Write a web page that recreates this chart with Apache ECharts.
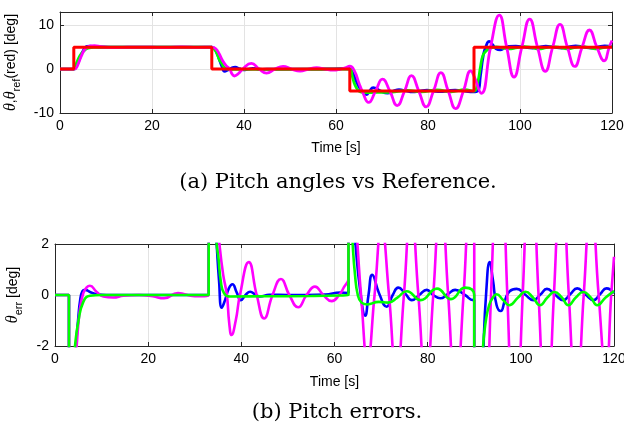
<!DOCTYPE html>
<html>
<head>
<meta charset="utf-8">
<script src="https://cdn.jsdelivr.net/npm/echarts@6.0.0/dist/echarts.min.js"></script>
<style>
  html, body { margin: 0; padding: 0; background: #fff; }
  #chart { width: 624px; height: 432px; }
</style>
</head>
<body>
<div id="chart"></div>
<script>
// reference (red) and pitch responses, [time s, deg]
const refTheta = [[0,0],[3,0],[3,5],[33,5],[33,0],[63,0],[63,-5],[90,-5],[90,5],[120,5]];

const blueTheta = [
  [0,0],[3,0],[3.5,0.5],[4,1.6],[4.5,3.0],[5,4.1],[5.4,4.8],[5.9,5.15],[6.5,5.2],[7.5,5.12],[9,5.03],[11,5],[20,5],[33,5],
  [33.6,4.6],[34.2,3.4],[34.7,2],[35.2,0.6],[35.8,-0.5],[36.5,-0.2],[37.3,0.25],[38.1,0.42],[39,0.1],[39.9,-0.2],[40.9,0],[41.9,0.13],[43,0.02],[44,-0.06],[46,0.01],[50,0],[58,0.02],[61.2,0.1],[63,0.08],
  [63.6,-0.8],[64.1,-2],[64.5,-3],[65.5,-4.8],[66.6,-5.81],[67.3,-5],[68.1,-4.21],[69.6,-4.95],[71.2,-5.46],[72.5,-5],[73.7,-4.71],[75.2,-4.95],[76.6,-5.2],[78.2,-5],[79.8,-4.8],[81.2,-5],[82.7,-5.13],[84.3,-4.97],[85.9,-4.8],[88,-5],[89.8,-5.2],[90.8,-5],
  [91.4,-1.5],[92,3],[92.6,5.2],[93.3,6.29],[94,5.6],[94.8,4.6],[95.7,4.37],[96.6,4.8],[97.6,5.15],[99.1,5.24],[100.9,5.02],[102.7,4.8],[104.2,5.02],[105.6,5.24],[107.3,5.02],[109.1,4.8],[110.6,5.03],[112.1,5.26],[113.8,5.03],[115.6,4.8],[117,5.03],[118.4,5.26],[120,5.07]
];

const greenTheta = [
  [0,0],[3,0],[3.6,1.4],[4.3,3],[5,3.95],[6.1,4.74],[7.5,4.97],[10,5],[20,5],[33,5],
  [33.5,4.6],[34.1,3.6],[34.7,2],[35.1,1.44],[35.6,0.53],[36.3,0.07],[37.6,-0.06],[45,-0.05],[55,-0.04],[61,-0.02],[63,0],
  [63.5,-1.5],[63.9,-3],[64.4,-4.2],[65,-5],[65.8,-5.3],[67,-5.37],[69.5,-5.27],[71.5,-5.3],[73.5,-5.1],[75.5,-4.85],[78.5,-5.2],[82,-4.75],[85,-5.16],[88,-4.71],[90,-5],
  [90.8,-3],[91.4,0.5],[91.9,3],[92.5,4],[93.2,4.6],[94,4.9],[94.8,5.03],[96.2,4.8],[97.5,4.6],[99.4,4.9],[101,5.13],[102.6,4.9],[104.1,4.6],[105.7,4.9],[107.2,5.12],[108.8,4.9],[110.2,4.6],[111.8,4.9],[113.4,5.12],[115,4.9],[116.4,4.6],[118.2,4.9],[120,5.15]
];

const magentaTheta = [
  [0,0],[3,0],[3.4,0.1],[4,1.3],[4.65,3],[5.37,4.48],[6.08,5.07],[6.8,5.3],[7.5,5.36],[8.9,5.13],[10.4,4.94],[12.5,4.9],[14.7,4.97],[18,5],[21,4.95],[23.4,4.87],[26.4,5.08],[30,4.95],[33,5],
  [33.8,4.7],[34.6,3.5],[35.3,2],[36.1,0.8],[36.9,0],[37.4,-1.1],[37.9,-1.57],[38.8,-1],[39.7,0],[41.6,1.29],[43.3,0],[44.9,-0.92],[46.7,0],[48.5,0.63],[50.3,0],[52.2,-0.48],[54,0],[55.8,0.33],[57.6,0],[59.4,-0.24],[61,0],[62,0.3],[63,0.66],
  [64,-0.4],[65,-3.2],[65.7,-5],[67.1,-7.6],[68.6,-5],[70.1,-2.3],[71.7,-5],[73.3,-8.3],[74.9,-5],[76.4,-1.5],[78,-5],[79.6,-8.6],[81.2,-5],[82.8,-0.8],[84.4,-5],[86,-9],[87.7,-5],[89.3,-0.4],[90,-1.6],
  [91.6,-5.5],[93.6,5],[95.5,12.3],[97.1,5],[98.7,-1.8],[100.4,5],[102.1,11.4],[103.8,5],[105.5,-0.5],[107.1,5],[108.7,10.2],[110.3,5],[111.9,0.6],[113.5,5],[115.1,8.9],[116.7,5],[118.3,1.9],[119.4,5],[120,6.5]
];

// pitch errors, [time s, deg]
const blueErr = [
  [0,0],[3,0],[3,-5],[3.5,-4.5],[4,-3.4],[4.5,-2],[5,-0.9],[5.4,-0.2],[5.9,0.15],[6.5,0.2],[7.5,0.12],[9,0.03],[11,0],[20,0],[33,0],
  [33,5],[33.6,4.6],[34.2,3.4],[34.7,2],[35.2,0.6],[35.8,-0.5],[36.5,-0.2],[37.3,0.25],[38.1,0.42],[39,0.1],[39.9,-0.2],[40.9,0],[41.9,0.13],[43,0.02],[44,-0.06],[46,0.01],[50,0],[58,0.02],[61.2,0.1],[63,0.08],
  [63,5.08],[63.6,4.2],[64.1,3],[64.5,2],[65.5,0.2],[66.6,-0.81],[67.3,0],[68.1,0.79],[69.6,0.05],[71.2,-0.46],[72.5,0],[73.7,0.29],[75.2,0.05],[76.6,-0.2],[78.2,0],[79.8,0.2],[81.2,0],[82.7,-0.13],[84.3,0.03],[85.9,0.2],[88,0],[89.8,-0.2],[90,-0.2],
  [90,-10.2],[90.8,-10],[91.4,-6.5],[92,-2],[92.6,0.2],[93.3,1.29],[94,0.6],[94.8,-0.4],[95.7,-0.63],[96.6,-0.2],[97.6,0.15],[99.1,0.24],[100.9,0.02],[102.7,-0.2],[104.2,0.02],[105.6,0.24],[107.3,0.02],[109.1,-0.2],[110.6,0.03],[112.1,0.26],[113.8,0.03],[115.6,-0.2],[117,0.03],[118.4,0.26],[120,0.07]
];

const greenErr = [
  [0,0],[3,0],[3,-5],[3.6,-3.6],[4.3,-2],[5,-1.05],[6.1,-0.26],[7.5,-0.03],[10,0],[20,0],[33,0],
  [33,5],[33.5,4.6],[34.1,3.6],[34.7,2],[35.1,1.44],[35.6,0.53],[36.3,0.07],[37.6,-0.06],[45,-0.05],[55,-0.04],[61,-0.02],[63,0],
  [63,5],[63.5,3.5],[63.9,2],[64.4,0.8],[65,0],[65.8,-0.3],[67,-0.37],[69.5,-0.27],[71.5,-0.3],[73.5,-0.1],[75.5,0.15],[78.5,-0.2],[82,0.25],[85,-0.16],[88,0.29],[90,0],
  [90,-10],[90.8,-8],[91.4,-4.5],[91.9,-2],[92.5,-1],[93.2,-0.4],[94,-0.1],[94.8,0.03],[96.2,-0.2],[97.5,-0.4],[99.4,-0.1],[101,0.13],[102.6,-0.1],[104.1,-0.4],[105.7,-0.1],[107.2,0.12],[108.8,-0.1],[110.2,-0.4],[111.8,-0.1],[113.4,0.12],[115,-0.1],[116.4,-0.4],[118.2,-0.1],[120,0.15]
];

const magentaErr = [
  [0,0],[3,0],[3,-5],[3.4,-4.9],[4,-3.7],[4.65,-2],[5.37,-0.52],[6.08,0.07],[6.8,0.3],[7.5,0.36],[8.9,0.13],[10.4,-0.06],[12.5,-0.1],[14.7,-0.03],[18,0],[21,-0.05],[23.4,-0.13],[26.4,0.08],[30,-0.05],[33,0],
  [33,5],[33.8,4.7],[34.6,3.5],[35.3,2],[36.1,0.8],[36.9,0],[37.4,-1.1],[37.9,-1.57],[38.8,-1],[39.7,0],[41.6,1.29],[43.3,0],[44.9,-0.92],[46.7,0],[48.5,0.63],[50.3,0],[52.2,-0.48],[54,0],[55.8,0.33],[57.6,0],[59.4,-0.24],[61,0],[62,0.3],[63,0.66],
  [63,5.66],[64,4.6],[65,1.8],[65.7,0],[67.1,-2.6],[68.6,0],[70.1,2.7],[71.7,0],[73.3,-3.3],[74.9,0],[76.4,3.5],[78,0],[79.6,-3.6],[81.2,0],[82.8,4.2],[84.4,0],[86,-4],[87.7,0],[89.3,4.6],[90,3.4],
  [90,-6.6],[91.6,-10.5],[93.6,0],[95.5,7.3],[97.1,0],[98.7,-6.8],[100.4,0],[102.1,6.4],[103.8,0],[105.5,-5.5],[107.1,0],[108.7,5.2],[110.3,0],[111.9,-4.4],[113.5,0],[115.1,3.9],[116.7,0],[118.3,-3.1],[119.4,0],[120,1.5]
];

const chart = echarts.init(document.getElementById('chart'));

const axisColor = '#262626';
const gridColor = '#e3e3e3';
const sans = 'Liberation Sans, Arial, Helvetica, sans-serif';
const serif = 'DejaVu Serif, serif';

// bottom axis with labels + a bare mirror on top (matlab box)
function xAxes(gridIndex, nameGap) {
  return [
    {
      type: 'value', gridIndex, min: 0, max: 120, interval: 20, position: 'bottom',
      name: 'Time [s]', nameLocation: 'middle', nameGap,
      nameTextStyle: { fontFamily: sans, fontSize: 14, color: '#000' },
      axisLine: { show: true, onZero: false, lineStyle: { color: axisColor, width: 1 } },
      axisTick: { show: true, inside: true, length: 4, lineStyle: { color: axisColor } },
      axisLabel: { fontFamily: sans, fontSize: 14, color: '#000', margin: 6 },
      splitLine: { show: true, lineStyle: { color: gridColor, width: 1 } }
    },
    {
      type: 'value', gridIndex, min: 0, max: 120, interval: 20, position: 'top',
      axisLine: { show: true, onZero: false, lineStyle: { color: axisColor, width: 1 } },
      axisTick: { show: true, inside: true, length: 4, lineStyle: { color: axisColor } },
      axisLabel: { show: false },
      splitLine: { show: false }
    }
  ];
}

function yAxes(gridIndex, min, max, interval, name, nameGap) {
  return [
    {
      type: 'value', gridIndex, min, max, interval, position: 'left',
      name, nameLocation: 'middle', nameRotate: 90, nameGap,
      nameTextStyle: {
        fontFamily: sans, fontSize: 14, color: '#000', lineHeight: 22,
        rich: {
          th: { fontFamily: 'Liberation Serif, serif', fontStyle: 'italic', fontSize: 16, lineHeight: 22, color: '#000' },
          sub: { fontFamily: sans, fontSize: 11, lineHeight: 10, verticalAlign: 'bottom', color: '#000' }
        }
      },
      axisLine: { show: true, onZero: false, lineStyle: { color: axisColor, width: 1 } },
      axisTick: { show: true, inside: true, length: 4, lineStyle: { color: axisColor } },
      axisLabel: {
        fontFamily: sans, fontSize: 14, color: '#000', margin: 6,
        formatter: v => (v % interval === 0 ? String(v) : '')
      },
      splitLine: { show: true, lineStyle: { color: gridColor, width: 1 } }
    },
    {
      type: 'value', gridIndex, min, max, interval, position: 'right',
      axisLine: { show: true, onZero: false, lineStyle: { color: axisColor, width: 1 } },
      axisTick: { show: true, inside: true, length: 4, lineStyle: { color: axisColor } },
      axisLabel: { show: false },
      splitLine: { show: false }
    }
  ];
}

function line(data, color, xi, yi, width, smooth) {
  return {
    type: 'line', data, xAxisIndex: xi, yAxisIndex: yi,
    showSymbol: false, symbol: 'none', smooth: smooth ? 0.5 : false,
    lineStyle: { color, width }, itemStyle: { color },
    clip: true, silent: true
  };
}

const option = {
  animation: false,
  backgroundColor: '#fff',
  grid: [
    { left: 60, right: 12, top: 12, height: 101, outerBoundsMode: 'none', containLabel: false },
    { left: 55, right: 10, top: 244, height: 102, outerBoundsMode: 'none', containLabel: false }
  ],
  xAxis: [...xAxes(0, 28), ...xAxes(1, 29)],
  yAxis: [
    ...yAxes(0, -10, 13, 10, '{th|θ},{th|θ}{sub|ref}(red) [deg]', 38),
    ...yAxes(1, -2, 2, 2, '{th|θ}{sub|err} [deg]', 31)
  ],
  series: [
    line(blueTheta, '#0000ff', 0, 0, 2.8, true),
    line(greenTheta, '#00ff00', 0, 0, 2.8, true),
    line(magentaTheta, '#ff00ff', 0, 0, 2.8, true),
    line(refTheta, '#ff0000', 0, 0, 3, false),
    line(blueErr, '#0000ff', 2, 2, 2.6, true),
    line(magentaErr, '#ff00ff', 2, 2, 2.6, true),
    line(greenErr, '#00ff00', 2, 2, 2.6, true)
  ],
  graphic: [
    {
      type: 'text', x: 338, y: 183,
      style: { text: '(a) Pitch angles vs Reference.', fontFamily: serif, fontSize: 21, fill: '#000',
               align: 'center', verticalAlign: 'middle', textAlign: 'center', textVerticalAlign: 'middle' }
    },
    {
      type: 'text', x: 337, y: 413,
      style: { text: '(b) Pitch errors.', fontFamily: serif, fontSize: 21, fill: '#000',
               align: 'center', verticalAlign: 'middle', textAlign: 'center', textVerticalAlign: 'middle' }
    }
  ]
};

chart.setOption(option);
</script>
</body>
</html>
